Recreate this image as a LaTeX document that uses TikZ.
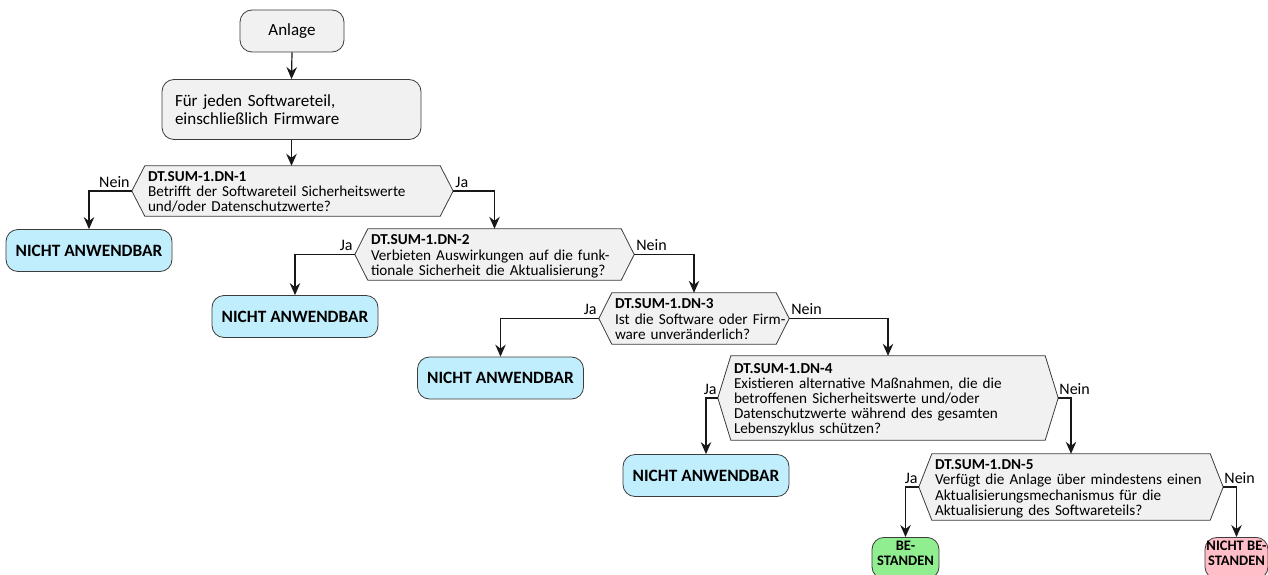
\documentclass[tikz,border=0pt]{standalone}
\usepackage{fontspec}
\setmainfont{Carlito}
\usetikzlibrary{arrows.meta,backgrounds,calc}
\definecolor{boxgray}{RGB}{241,241,241}
\definecolor{nablue}{RGB}{193,238,252}
\definecolor{okgreen}{RGB}{144,238,144}
\definecolor{failpink}{RGB}{255,190,200}
\definecolor{linec}{RGB}{24,24,24}
\definecolor{edgec}{RGB}{60,60,60}
\newcommand\mlines[1]{\raisebox{-2.5pt}[\height][\depth]{\begin{tabular}{@{}l@{}}#1\end{tabular}}}
\tikzset{
  rbox/.style={draw=edgec, line width=0.8pt, inner sep=0pt, rounded corners=12pt, align=center},
  startbox/.style={rbox, fill=boxgray, font=\fontsize{17}{17.5}\selectfont},
  nabox/.style={rbox, fill=nablue, minimum width=166pt, minimum height=42pt,
     font=\bfseries\fontsize{17.3}{18}\selectfont},
  endbox/.style={rbox, inner ysep=4pt, text depth=9pt, font=\bfseries\fontsize{14.5}{15}\selectfont},
  decbox/.style={inner xsep=3pt, inner ysep=0pt, align=left,
     font=\fontsize{15.2}{15.2}\selectfont},
  hexpath/.style={draw=edgec, fill=boxgray, line width=0.8pt},
  flow/.style={draw=linec, line width=1.2pt, -{Stealth[length=12pt,width=10.5pt,inset=4pt]}},
  lbl/.style={font=\fontsize{16}{17}\selectfont, inner sep=0pt},
}
\newcommand\hexa[2]{%
  \draw[hexpath] (#1.north west) -- (#1.north east) -- ([xshift=#2]#1.east)
    -- (#1.south east) -- (#1.south west) -- ([xshift=-#2]#1.west) -- cycle;
  \coordinate (#1W) at ([xshift=-#2]#1.west);
  \coordinate (#1E) at ([xshift=#2]#1.east);}
\begin{document}
\begin{tikzpicture}[x=1pt,y=-1pt]
\useasboundingbox (0,0) rectangle (1268,575);
\clip (0,0) rectangle (1268,575);

\node[startbox, minimum width=104pt, minimum height=42pt] (anl) at (292,31) {Anlage};
\node[startbox, minimum width=259pt, minimum height=60pt, text width=233pt, align=left] (fur) at (291.5,109.5)
  {Für jeden Softwareteil,\\einschließlich Firmware};

\node[decbox, text width=289pt, minimum height=50pt] (d1) at (292.5,191)
  {\mlines{\textbf{DT.SUM-1.DN-1}\\Betrifft der Softwareteil Sicherheitswerte\\und/oder Datenschutzwerte?}};
\node[decbox, text width=247pt, minimum height=51pt] (d2) at (494.5,254.5)
  {\mlines{\textbf{DT.SUM-1.DN-2}\\Verbieten Auswirkungen auf die funk-\\tionale Sicherheit die Aktualisierung?}};
\node[decbox, text width=158pt, minimum height=51pt] (d3) at (694,318.5)
  {\mlines{\textbf{DT.SUM-1.DN-3}\\Ist die Software oder Firm-\\ware unveränderlich?}};
\node[decbox, text width=308pt, minimum height=84pt] (d4) at (888,398)
  {\mlines{\textbf{DT.SUM-1.DN-4}\\Existieren alternative Maßnahmen, die die\\betroffenen Sicherheitswerte und/oder\\Datenschutzwerte während des gesamten\\Lebenszyklus schützen?}};
\node[decbox, text width=272pt, minimum height=66pt] (d5) at (1071,487)
  {\mlines{\textbf{DT.SUM-1.DN-5}\\Verfügt die Anlage über mindestens einen\\Aktualisierungsmechanismus für die\\Aktualisierung des Softwareteils?}};

\begin{pgfonlayer}{background}
  \fill[white] (0,0) rectangle (1268,575);
  \hexa{d1}{13pt}
  \hexa{d2}{13pt}
  \hexa{d3}{13pt}
  \hexa{d4}{13pt}
  \hexa{d5}{13pt}
\end{pgfonlayer}

\node[nabox] (n1) at (89,250.5) {NICHT ANWENDBAR};
\node[nabox] (n2) at (295,316.5) {NICHT ANWENDBAR};
\node[nabox] (n3) at (500.5,378) {NICHT ANWENDBAR};
\node[nabox] (n4) at (706,475.5) {NICHT ANWENDBAR};
\node[endbox, fill=okgreen, minimum width=67pt, anchor=north] (ok) at (905.5,537) {BE-\\STANDEN};
\node[endbox, fill=failpink, minimum width=63pt, anchor=north] (fail) at (1236.5,537) {NICHT BE-\\STANDEN};

\draw[flow] (anl.south) -- (fur.north);
\draw[flow] (fur.south) -- (fur.south |- d1.north);
\draw[flow] (d1W) -| (n1.north);
\draw[flow] (d1E) -| (d2.north);
\draw[flow] (d2W) -| (n2.north);
\draw[flow] (d2E) -| (d3.north);
\draw[flow] (d3W) -| (n3.north);
\draw[flow] (d3E) -| (d4.north);
\draw[flow] (d4W) -| (n4.north);
\draw[flow] (d4E) -| (d5.north);
\draw[flow] (d5W) -| (ok.north);
\draw[flow] (d5E) -| (fail.north);

\node[lbl, anchor=base east] (l1) at ($(d1W)+(-2,-4)$) {Nein};
\node[lbl, anchor=base west] (l2) at ($(d1E)+(2,-4)$) {Ja};
\node[lbl, anchor=base east] (l3) at ($(d2W)+(-2,-4)$) {Ja};
\node[lbl, anchor=base west] (l4) at ($(d2E)+(2,-4)$) {Nein};
\node[lbl, anchor=base east] (l5) at ($(d3W)+(-2,-4)$) {Ja};
\node[lbl, anchor=base west] (l6) at ($(d3E)+(2,-4)$) {Nein};
\node[lbl, anchor=base east] (l7) at ($(d4W)+(-1,-4)$) {Ja};
\node[lbl, anchor=base west] (l8) at ($(d4E)+(1,-4)$) {Nein};
\node[lbl, anchor=base east] (l9) at ($(d5W)+(-1,-4)$) {Ja};
\node[lbl, anchor=base west] (l10) at ($(d5E)+(1,-4)$) {Nein};
\end{tikzpicture}
\end{document}
